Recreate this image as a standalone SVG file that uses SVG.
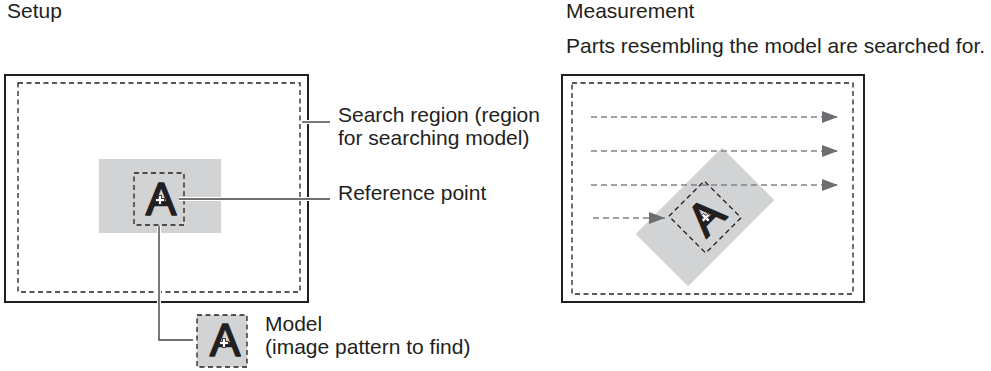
<svg xmlns="http://www.w3.org/2000/svg" width="991" height="371" viewBox="0 0 991 371">
<defs>
<style>
.t{font-family:"Liberation Sans",Arial,sans-serif;font-size:21px;fill:#231f20}
.glyph{font-family:"Liberation Sans",Arial,sans-serif;font-size:46px;fill:#231f20;stroke:#231f20;stroke-width:1.5;stroke-linejoin:round;text-anchor:middle}
.frame{fill:#fff;stroke:#231f20;stroke-width:2}
.dash{fill:none;stroke:#231f20;stroke-width:1.3;stroke-dasharray:5 3.5}
.gray{fill:#d1d3d4}
.halo{fill:none;stroke:#fff;stroke-width:4}
.lead{fill:none;stroke:#414042;stroke-width:1.4}
.scan{fill:none;stroke:#808285;stroke-width:1.3;stroke-dasharray:6 4}
.mark{fill:#fff;stroke:#231f20;stroke-width:0.9}
</style>
<marker id="ah" markerWidth="16" markerHeight="12" refX="16" refY="6" orient="auto" markerUnits="userSpaceOnUse">
<path d="M0,0 L16,6 L0,12 Z" fill="#6d6e71"/>
</marker>
<g id="refmark">
<path class="mark" d="M-1.5,-4.5 H1.5 V-1.5 H4.5 V1.5 H1.5 V4.5 H-1.5 V1.5 H-4.5 V-1.5 H-1.5 Z"/>
</g>
</defs>

<text class="t" x="7" y="18">Setup</text>
<text class="t" x="566" y="18">Measurement</text>
<text class="t" x="566" y="53">Parts resembling the model are searched for.</text>

<g id="setup-frame">
<rect class="frame" x="5" y="75" width="303" height="227"/>
</g>
<g id="search-region">
<rect class="dash" x="18" y="83" width="282" height="209"/>
</g>
<g id="setup-model">
<rect class="gray" x="99" y="159" width="122" height="74"/>
<rect class="dash" x="134" y="173" width="50" height="52"/>
<text class="glyph" x="161" y="215">A</text>
<use href="#refmark" x="160" y="200"/>
</g>

<g id="measure-frame">
<rect class="frame" x="562" y="75" width="302" height="227"/>
<rect class="dash" x="572" y="83" width="281" height="211"/>
</g>
<g id="found-model" transform="translate(705,217) rotate(-45)">
<rect class="gray" x="-61" y="-37" width="122" height="74"/>
<rect class="dash" x="-25" y="-26" width="50" height="52"/>
<text class="glyph" x="1" y="16">A</text>
<use href="#refmark" x="0" y="1"/>
</g>

<g id="model">
<rect class="gray" x="197" y="315" width="50" height="52"/>
<rect class="dash" x="197" y="315" width="50" height="52"/>
<text class="glyph" x="225" y="356">A</text>
<use href="#refmark" x="224" y="343"/>
</g>

<g id="connectors">
<path class="halo" d="M302,122 H330"/>
<path class="lead" d="M302,122 H330"/>
<path class="halo" d="M179,199 H330"/>
<path class="lead" d="M179,199 H330"/>
<path class="halo" d="M159,226 V340 H193"/>
<path class="lead" d="M159,226 V340 H193"/>
<path class="scan" d="M591,117 H838" marker-end="url(#ah)"/>
<path class="scan" d="M591,151 H838" marker-end="url(#ah)"/>
<path class="scan" d="M591,185 H838" marker-end="url(#ah)"/>
<path class="scan" d="M593,218 H665" marker-end="url(#ah)"/>
</g>

<g id="labels">
<text class="t" x="338" y="122">Search region (region</text>
<text class="t" x="338" y="145">for searching model)</text>
<text class="t" x="338" y="200">Reference point</text>
<text class="t" x="265" y="331">Model</text>
<text class="t" x="265" y="354">(image pattern to find)</text>
</g>
</svg>
